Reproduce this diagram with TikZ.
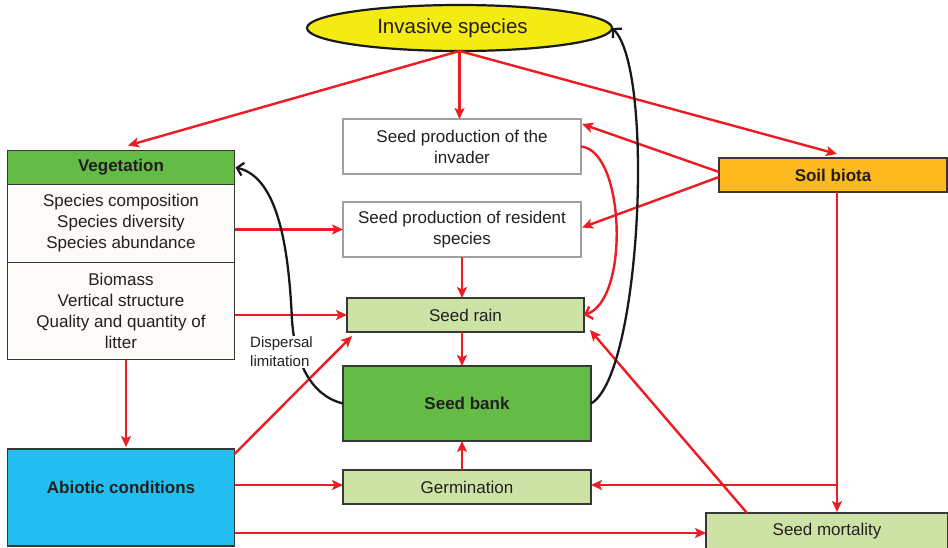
\documentclass[tikz,border=0pt]{standalone}
\usepackage{fontspec}
\setmainfont{Liberation Sans}
\usetikzlibrary{arrows.meta,shapes.geometric,calc}
\definecolor{cyellow}{RGB}{244,235,20}
\definecolor{cgreen}{RGB}{100,187,70}
\definecolor{clgreen}{RGB}{205,227,166}
\definecolor{corange}{RGB}{253,185,30}
\definecolor{ccyan}{RGB}{35,190,240}
\definecolor{coff}{RGB}{252,251,248}
\definecolor{cred}{RGB}{237,28,36}
\definecolor{ctext}{RGB}{35,31,32}
\definecolor{cgray}{RGB}{160,160,160}
\definecolor{cborder}{RGB}{55,55,55}
\begin{document}
\begin{tikzpicture}[x=1pt,y=-1pt,
  box/.style={draw=cborder, line width=1.5pt, text=ctext, align=center, inner sep=0pt, outer sep=0pt,
    anchor=north west, font=\fontsize{17}{21}\selectfont},
  graybox/.style={box, draw=cgray, fill=white},
  lgbox/.style={box, fill=clgreen},
  gbox/.style={box, fill=cgreen},
  obox/.style={box, fill=corange},
  cbox/.style={box, fill=ccyan},
  wbox/.style={box, fill=coff},
  ra/.style={draw=cred, line width=2.4pt, -{Stealth[length=11pt,width=10pt,inset=2.5pt]}},
  rc/.style={draw=cred, line width=2.4pt, -{Straight Barb[length=6pt,width=13pt,line width=2.4pt]}},
  bc/.style={draw=black!90, line width=2.3pt, -{Straight Barb[length=6pt,width=13pt,line width=2.3pt]}},
]
\useasboundingbox[fill=white] (0,0) rectangle (948,547);

% nodes
\node[draw=black!90, line width=2.2pt, fill=cyellow, ellipse, minimum width=305pt, minimum height=46pt,
  inner sep=0pt, outer sep=0pt, text=ctext, font=\fontsize{20.5}{24}\selectfont] (inv) at (459.5,28) {Invasive species\hspace*{14pt}};
\node[graybox, minimum width=238pt, minimum height=55pt] (spi) at (343,119) {Seed production of the\\invader};
\node[graybox, minimum width=238pt, minimum height=55pt] (spr) at (343,202) {Seed production of resident\\species};
\node[lgbox, minimum width=237pt, minimum height=34pt] (rain) at (347,298) {Seed rain};
\node[gbox, minimum width=248pt, minimum height=75pt] (bank) at (343,366) {\bfseries Seed bank};
\node[lgbox, minimum width=248pt, minimum height=34pt] (germ) at (343,470) {Germination};
\node[lgbox, minimum width=242pt, minimum height=36pt] (mort) at (706,513) {Seed mortality};
\node[obox, minimum width=228pt, minimum height=34pt] (soil) at (719,158) {\bfseries Soil biota};
\node[gbox, minimum width=227pt, minimum height=34pt] (veg) at (7.5,150.5) {\bfseries Vegetation};
\node[wbox, minimum width=227pt, minimum height=78pt] (veg1) at (7.5,184.5) {Species composition\\Species diversity\\Species abundance};
\node[wbox, minimum width=227pt, minimum height=97pt] (veg2) at (7.5,262.5) {Biomass\\Vertical structure\\Quality and quantity of\\litter};
\node[cbox, minimum width=227pt, minimum height=97pt] (abio) at (7.5,449) {};
\node[text=ctext, font=\fontsize{17}{21}\selectfont\bfseries, inner sep=0pt] (abiotxt) at ($(abio.center)+(0,-10)$) {Abiotic conditions};

% red straight arrows
\draw[ra] (inv.south) -- ($(veg.north)+(7,-5)$);
\draw[ra] (inv.south) -- (inv.south |- spi.north);
\draw[ra] (inv.south) -- ($(soil.north)+(4,-4)$);
\draw[ra] ($(soil.west)+(0,-3)$) -- ($(spi.north east)+(1,5)$);
\draw[ra] ($(soil.west)+(0,2)$) -- ($(spr.east)+(1,-2)$);
\draw[ra] (spr.west -| veg1.east) -- (spr.west);
\draw[ra] (rain.west -| veg2.east) -- (rain.west);
\draw[ra] ($(veg2.south)+(5,0)$) -- ($(abio.north)+(5,-2)$);
\draw[ra] (spr.south) -- (spr.south |- rain.north);
\draw[ra] (spr.south |- rain.south) -- (spr.south |- bank.north);
\draw[ra] (spr.south |- germ.north) -- (spr.south |- bank.south);
\draw[ra] ($(abio.north east)+(0,5)$) -- ($(rain.south west)+(5,4)$);
\draw[ra] ($(germ.west -| abio.east)+(0,-2)$) -- ($(germ.west)+(0,-2)$);
\draw[ra] ($(mort.west -| abio.east)+(0,2)$) -- ($(mort.west)+(0,2)$);
\draw[ra] ($(soil.south)+(4,0)$) -- ($(mort.north)+(10,-1)$);
\coordinate (br) at ($(soil.south)+(4,293)$);
\draw[ra] (br) -- (br -| germ.east);
\draw[ra] ($(mort.north west)+(41,0)$) -- ($(rain.south east)+(6,-2)$);

% red curve
\draw[rc] (spi.east) .. controls ($(spi.east)+(44,4)$) and ($(rain.east)+(46,-15)$) .. (rain.east);

% black curves
\draw[bc] (bank.east) .. controls ($(bank.east)+(50,-28)$) and ($(inv.east)+(43,42)$) .. (inv.east);
\draw[bc] (bank.west) .. controls ($(bank.west)+(-33,-8)$) and ($(bank.west)+(-48,-43)$) .. ($(bank.west)+(-51,-83)$)
  .. controls ($(bank.west)+(-54,-150)$) and ($(veg.east)+(45,10)$) .. ($(veg.east)+(1,0)$);

\node[fill=white, inner sep=1pt, align=left, anchor=west, text=ctext,
  font=\fontsize{15}{19}\selectfont] (disp) at (249,352) {Dispersal\\limitation};
\end{tikzpicture}
\end{document}
